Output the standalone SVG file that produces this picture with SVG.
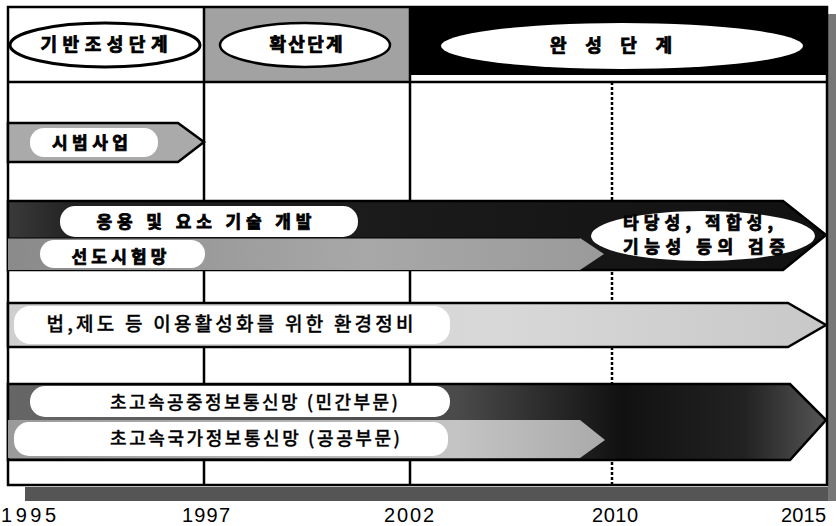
<svg xmlns="http://www.w3.org/2000/svg" width="836" height="526" viewBox="0 0 836 526">
<defs>
<style>
.kr{font-family:"Noto Sans CJK KR","Noto Sans",sans-serif;fill:#000;text-anchor:middle}
.b{font-weight:bold;stroke:#000;stroke-width:0.8}
.m{font-weight:500;stroke:#000;stroke-width:0.3}
.yr{font-family:"Liberation Sans",Arial,sans-serif;font-size:20px;fill:#000}
.ln{stroke:#000;stroke-width:2.5;fill:none}
.lbl{fill:#fff}
</style>
<linearGradient id="gDark1" x1="0" x2="1" y1="0" y2="0">
<stop offset="0" stop-color="#3a3a3a"/><stop offset="0.08" stop-color="#222"/><stop offset="0.5" stop-color="#1a1a1a"/><stop offset="1" stop-color="#111"/>
</linearGradient>
<linearGradient id="gMid1" x1="0" x2="1" y1="0" y2="0">
<stop offset="0" stop-color="#8a8a8a"/><stop offset="0.6" stop-color="#a8a8a8"/><stop offset="1" stop-color="#9a9a9a"/>
</linearGradient>
<linearGradient id="gLight" x1="0" x2="1" y1="0" y2="0">
<stop offset="0" stop-color="#cfcfcf"/><stop offset="0.6" stop-color="#d8d8d8"/><stop offset="1" stop-color="#c8c8c8"/>
</linearGradient>
<linearGradient id="gDark2" x1="0" x2="1" y1="0" y2="0">
<stop offset="0" stop-color="#666"/><stop offset="0.55" stop-color="#4a4a4a"/><stop offset="0.75" stop-color="#111"/><stop offset="0.9" stop-color="#222"/><stop offset="1" stop-color="#555"/>
</linearGradient>
<linearGradient id="gMid2" x1="0" x2="1" y1="0" y2="0">
<stop offset="0" stop-color="#9a9a9a"/><stop offset="0.75" stop-color="#c4c4c4"/><stop offset="1" stop-color="#aaa"/>
</linearGradient>
</defs>

<!-- shadow -->
<rect x="25" y="487" width="811" height="14" fill="#555"/>
<rect x="828" y="14" width="8" height="487" fill="#777"/>

<!-- frame and grid -->
<g id="grid">
<rect x="8" y="7" width="819" height="478" fill="#fff"/>
<rect x="204" y="7" width="206" height="75" fill="#a2a2a2"/>
<rect x="410" y="7" width="417" height="68" fill="#000"/>
<line class="ln" x1="204" y1="7" x2="204" y2="485"/>
<line class="ln" x1="410" y1="7" x2="410" y2="485"/>
<line x1="612" y1="82" x2="612" y2="485" stroke="#000" stroke-width="2.5" stroke-dasharray="3,2"/>
<line class="ln" x1="8" y1="82" x2="827" y2="82"/>
<rect class="ln" x="8" y="7" width="819" height="478"/>
</g>

<!-- header -->
<g id="phase1">
<ellipse cx="105" cy="45" rx="95" ry="22" fill="#fff" stroke="#000" stroke-width="3"/>
<text class="kr b" x="104" y="51" font-size="18" textLength="127" lengthAdjust="spacing">기반조성단계</text>
</g>
<g id="phase2">
<ellipse cx="305" cy="45" rx="85" ry="22" fill="#fff" stroke="#000" stroke-width="2.5"/>
<text class="kr b" x="306" y="51" font-size="18" textLength="73" lengthAdjust="spacing">확산단계</text>
</g>
<g id="phase3">
<ellipse cx="622" cy="46" rx="181" ry="23" fill="#fff"/>
<text class="kr b" x="611" y="52" font-size="18" textLength="122" lengthAdjust="spacing">완 성 단 계</text>
</g>

<!-- bars -->
<g id="pilot">
<polygon points="8,123 178,123 204,142 178,162 8,162" fill="#aaa" stroke="#000" stroke-width="2.5"/>
<rect class="lbl" x="30" y="128" width="128" height="29" rx="14"/>
<text class="kr b" x="90" y="149" font-size="17" textLength="76" lengthAdjust="spacing">시범사업</text>
</g>

<g id="tech">
<polygon points="8,201 783,201 826,235 783,270 8,270" fill="url(#gDark1)" stroke="#000" stroke-width="2.5"/>
<rect class="lbl" x="60" y="206" width="298" height="31" rx="15"/>
<text class="kr b" x="204" y="228" font-size="17" textLength="215" lengthAdjust="spacing">응용 및 요소 기술 개발</text>
</g>

<g id="testbed">
<polygon points="8,238 580,238 604,254 580,270 8,270" fill="url(#gMid1)"/>
<line x1="8" y1="238" x2="580" y2="238" stroke="#000" stroke-width="1"/>
<rect class="lbl" x="40" y="240" width="165" height="28" rx="14"/>
<text class="kr b" x="119" y="263" font-size="17" textLength="95" lengthAdjust="spacing">선도시험망</text>
</g>

<g id="verify">
<ellipse cx="703" cy="236" rx="112" ry="25" fill="#fff"/>
<text class="kr b" x="698" y="229" font-size="17" textLength="150" lengthAdjust="spacing">타당성, 적합성,</text>
<text class="kr b" x="704" y="253" font-size="17" textLength="162" lengthAdjust="spacing">기능성 등의 검증</text>
</g>

<g id="law">
<polygon points="8,303 788,303 826,325 788,347 8,347" fill="url(#gLight)" stroke="#000" stroke-width="2.5"/>
<rect class="lbl" x="14" y="306" width="436" height="38" rx="16"/>
<text class="kr m" x="230" y="331" font-size="19" textLength="367" lengthAdjust="spacing">법,제도 등 이용활성화를 위한 환경정비</text>
</g>

<g id="private">
<polygon points="8,384 790,384 826,420 790,460 8,460" fill="url(#gDark2)" stroke="#000" stroke-width="2.5"/>
<rect class="lbl" x="30" y="386" width="420" height="31" rx="15"/>
<text class="kr m" x="254" y="409" font-size="18" textLength="288" lengthAdjust="spacing">초고속공중정보통신망 (민간부문)</text>
</g>

<g id="public">
<polygon points="8,420 580,420 605,440 580,458 8,458" fill="url(#gMid2)"/>
<rect class="lbl" x="14" y="422" width="434" height="34" rx="15"/>
<text class="kr m" x="255" y="445" font-size="18" textLength="290" lengthAdjust="spacing">초고속국가정보통신망 (공공부문)</text>
</g>

<!-- years -->
<g id="years">
<text class="yr" x="1" y="522" textLength="55" lengthAdjust="spacing">1995</text>
<text class="yr" x="182" y="522" textLength="48" lengthAdjust="spacing">1997</text>
<text class="yr" x="384" y="522" textLength="50" lengthAdjust="spacing">2002</text>
<text class="yr" x="592" y="522" textLength="46" lengthAdjust="spacing">2010</text>
<text class="yr" x="781" y="522" textLength="45" lengthAdjust="spacing">2015</text>
</g>
</svg>
